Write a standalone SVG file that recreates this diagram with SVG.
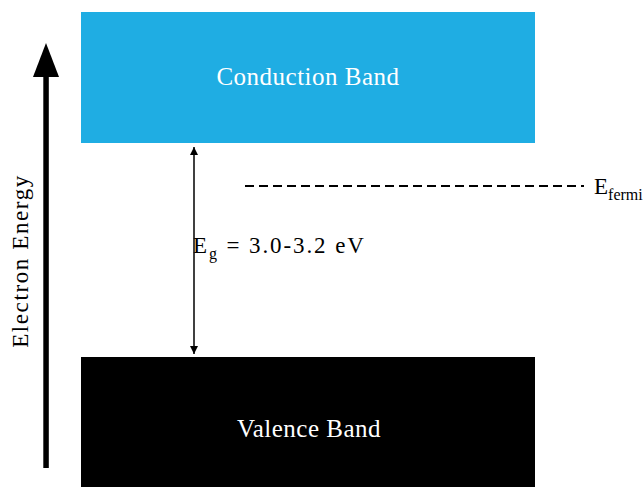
<svg xmlns="http://www.w3.org/2000/svg" width="644" height="487" viewBox="0 0 644 487">
<style>
text{font-family:"Liberation Serif","Times New Roman",serif;}
.band{font-size:25px;fill:#fff;text-anchor:middle;letter-spacing:0.5px;}
.lbl{font-size:23px;fill:#000;}
</style>
<defs>
<marker id="ah" viewBox="0 0 10 10" refX="10" refY="5" markerWidth="8" markerHeight="8" markerUnits="userSpaceOnUse" orient="auto-start-reverse">
<path d="M0,0 L10,5 L0,10 z" fill="#000"/>
</marker>
</defs>
<rect width="644" height="487" fill="#fff"/>
<g id="conduction">
<rect x="81" y="12" width="454" height="131" fill="#1fade3"/>
<text class="band" x="308" y="85">Conduction Band</text>
</g>
<g id="valence">
<rect x="81" y="357" width="454" height="130" fill="#000"/>
<text class="band" x="309" y="437">Valence Band</text>
</g>
<g id="energy-axis">
<rect x="43.3" y="76" width="5.5" height="392" fill="#000"/>
<path d="M46,43 L59,77 L33,77 z" fill="#000"/>
<text class="lbl" transform="translate(28,261) rotate(-90)" text-anchor="middle" font-size="22" letter-spacing="1.6">Electron Energy</text>
</g>
<g id="connectors">
<line x1="194" y1="147" x2="194" y2="354" stroke="#000" stroke-width="1.5" marker-start="url(#ah)" marker-end="url(#ah)"/>
<line x1="245" y1="186" x2="584" y2="186" stroke="#000" stroke-width="2" stroke-dasharray="9,5"/>
</g>
<g id="fermi">
<text class="lbl" x="594" y="194">E<tspan font-size="16" dy="6">fermi</tspan></text>
</g>
<g id="gap">
<text class="lbl" x="193" y="253" font-size="24" letter-spacing="1.9">E<tspan font-size="16" dy="6">g</tspan><tspan dy="-6"> = 3.0-3.2 eV</tspan></text>
</g>
</svg>
